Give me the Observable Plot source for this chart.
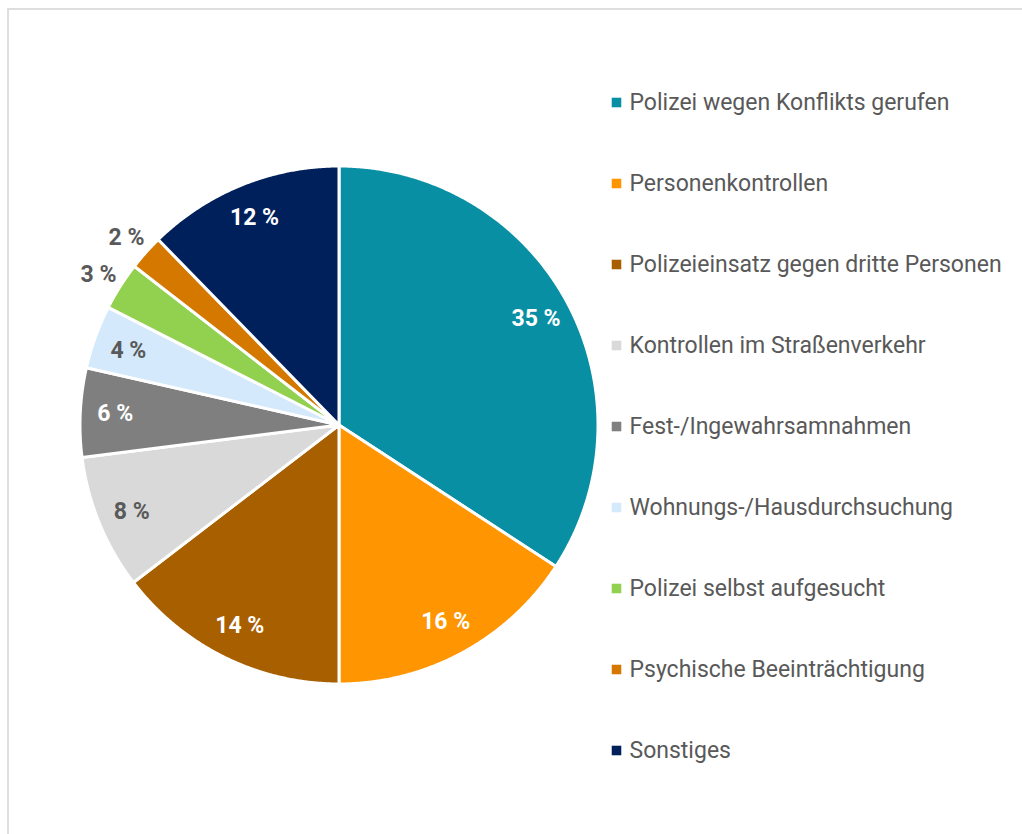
<!DOCTYPE html>
<html>
<head>
<meta charset="utf-8">
<script src="https://cdn.jsdelivr.net/npm/d3@7"></script>
<script src="https://cdn.jsdelivr.net/npm/@observablehq/plot@0.6"></script>
<style>
  html, body { margin: 0; padding: 0; background: #fff; }
  #wrap { position: relative; width: 1022px; height: 834px; overflow: hidden; font-family: Roboto, "Open Sans", sans-serif; }
  #frame { position: absolute; left: 7px; top: 8px; width: 1100px; height: 900px; border: 2px solid #dedede; box-sizing: border-box; }
  #pie { position: absolute; left: 0; top: 0; }
  #legend { position: absolute; left: 605px; top: 0; }
</style>
</head>
<body>
<div id="wrap">
  <div id="frame"></div>
  <div id="pie"></div>
  <div id="legend"></div>
</div>
<script>
const categories = [
  "Polizei wegen Konflikts gerufen",
  "Personenkontrollen",
  "Polizeieinsatz gegen dritte Personen",
  "Kontrollen im Straßenverkehr",
  "Fest-/Ingewahrsamnahmen",
  "Wohnungs-/Hausdurchsuchung",
  "Polizei selbst aufgesucht",
  "Psychische Beeinträchtigung",
  "Sonstiges"
];
const shares = [34.2, 15.8, 14.6, 8.4, 5.55, 3.95, 3.0, 2.2, 12.3];
const labels = ["35 %", "16 %", "14 %", "8 %", "6 %", "4 %", "3 %", "2 %", "12 %"];
const colors = ["#088fa4", "#ff9500", "#a85f00", "#d9d9d9", "#7f7f7f", "#d4e9fb", "#92d050", "#d47800", "#00205b"];

const darkInk = "#595959";
const arcs = d3.pie().sort(null).value(d => d)(shares);

// polygon vertices per slice (unit circle, y up)
const pts = [];
arcs.forEach((a, i) => {
  const cat = categories[i];
  pts.push({cat, x: 0, y: 0});
  const n = Math.max(2, Math.ceil((a.endAngle - a.startAngle) / 0.005));
  for (let k = 0; k <= n; k++) {
    const t = a.startAngle + (a.endAngle - a.startAngle) * k / n;
    pts.push({cat, x: Math.sin(t), y: Math.cos(t)});
  }
  pts.push({cat, x: 0, y: 0});
});

const lab = arcs.map((a, i) => {
  const mid = (a.startAngle + a.endAngle) / 2;
  const outside = shares[i] < 3.5;
  const r = outside ? 1.1 : 0.865;
  const light = d3.hsl(colors[i]).l > 0.6;
  return {x: r * Math.sin(mid), y: r * Math.cos(mid), text: labels[i], dark: outside || light};
});

const color = {domain: categories, range: colors};

const pie = Plot.plot({
  width: 1022, height: 834, margin: 0,
  style: {fontFamily: "Roboto, sans-serif", background: "transparent"},
  x: {domain: [-1, 1], range: [79.5, 597.5], axis: null},
  y: {domain: [-1, 1], range: [683.5, 165.5], axis: null},
  color,
  marks: [
    Plot.line(pts, {x: "x", y: "y", z: "cat", fill: "cat", stroke: "white", strokeWidth: 3, strokeLinejoin: "round", curve: "linear"}),
    Plot.text(lab.filter(d => !d.dark), {x: "x", y: "y", text: "text", fill: "white", fontSize: 23, fontWeight: "bold"}),
    Plot.text(lab.filter(d => d.dark), {x: "x", y: "y", text: "text", fill: darkInk, fontSize: 23, fontWeight: "bold", dy: 2})
  ]
});
document.getElementById("pie").append(pie);

const legend = Plot.plot({
  width: 417, height: 834, margin: 0,
  style: {fontFamily: "Roboto, sans-serif", background: "transparent"},
  y: {type: "point", domain: categories, range: [100, 751], padding: 0, axis: null},
  color,
  marks: [
    Plot.dot(categories, {y: d => d, fill: d => d, symbol: "square", r: 5.4, frameAnchor: "left", dx: 11}),
    Plot.text(categories, {y: d => d, text: d => d, frameAnchor: "left", dx: 24, textAnchor: "start", fill: darkInk, fontSize: 23})
  ]
});
document.getElementById("legend").append(legend);
</script>
</body>
</html>
